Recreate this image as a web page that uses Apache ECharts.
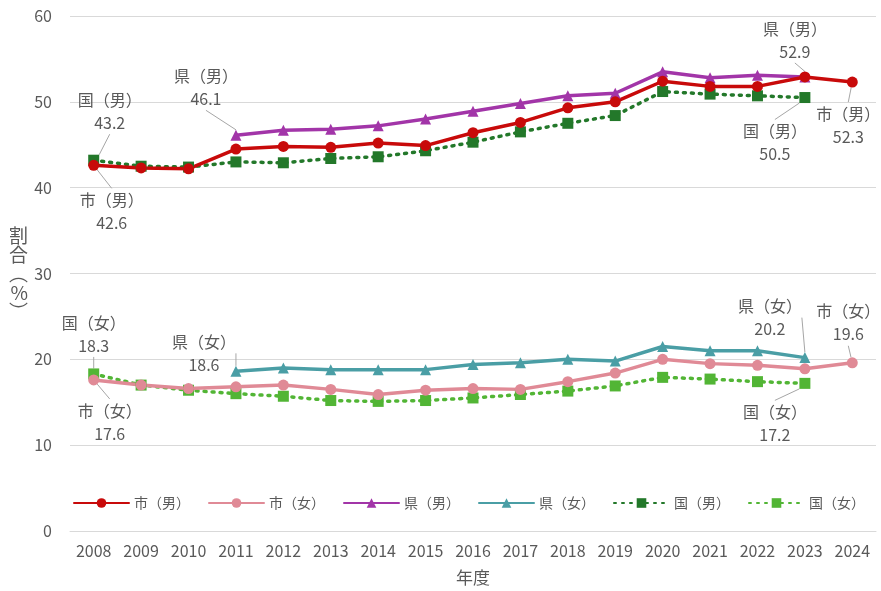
<!DOCTYPE html>
<html>
<head>
<meta charset="utf-8">
<script src="https://cdn.jsdelivr.net/npm/echarts@6/dist/echarts.min.js"></script>
<style>
html,body{margin:0;padding:0;background:#fff;}
#chart{width:881px;height:591px;}
</style>
</head>
<body>
<div id="chart"></div>
<script>
// 年度
var years = ['2008','2009','2010','2011','2012','2013','2014','2015','2016','2017','2018','2019','2020','2021','2022','2023','2024'];

// 割合（%）
var shiMale   = [42.6, 42.3, 42.2, 44.5, 44.8, 44.7, 45.2, 44.9, 46.4, 47.6, 49.3, 50.0, 52.4, 51.8, 51.8, 52.9, 52.3];
var shiFemale = [17.6, 17.0, 16.6, 16.8, 17.0, 16.5, 15.9, 16.4, 16.6, 16.5, 17.4, 18.4, 20.0, 19.5, 19.3, 18.9, 19.6];
var kenMale   = [null, null, null, 46.1, 46.7, 46.8, 47.2, 48.0, 48.9, 49.8, 50.7, 51.0, 53.5, 52.8, 53.1, 52.9, null];
var kenFemale = [null, null, null, 18.6, 19.0, 18.8, 18.8, 18.8, 19.4, 19.6, 20.0, 19.8, 21.5, 21.0, 21.0, 20.2, null];
var kuniMale  = [43.2, 42.5, 42.4, 43.0, 42.9, 43.4, 43.6, 44.3, 45.3, 46.5, 47.5, 48.4, 51.2, 50.9, 50.7, 50.5, null];
var kuniFemale= [18.3, 17.0, 16.4, 16.0, 15.7, 15.2, 15.1, 15.2, 15.5, 15.9, 16.3, 16.9, 17.9, 17.7, 17.4, 17.2, null];

// label offsets (px) from the point, by series and year index
var labelOffsets = {
	'市（男）': {0: [18, 46], 16: [-4, 43]},
	'市（女）': {0: [16, 42], 16: [-4, -40]},
	'県（男）': {3: [-30, -48], 15: [-10, -37]},
	'県（女）': {3: [-32, -18], 15: [-35, -40]},
	'国（男）': {0: [16, -49], 15: [-30, 45]},
	'国（女）': {0: [0, -40], 15: [-30, 40]}
};

var textColor = '#595959';
var fontFam = '"Noto Sans CJK JP", "Noto Sans", sans-serif';

function makeSeries(name, values, color, symbol, symbolSize, width, dotted) {
	var offs = labelOffsets[name];
	var data = values.map(function (v, i) {
		if (offs[i] && v != null) {
			return {value: v, label: {show: true}};
		}
		return v;
	});
	return {
		name: name,
		type: 'line',
		data: data,
		symbol: symbol,
		symbolSize: symbolSize,
		showAllSymbol: true,
		color: color,
		lineStyle: {color: color, width: width, type: dotted ? [2, 6] : 'solid', cap: 'round'},
		itemStyle: {color: color},
		label: {
			show: false,
			position: 'inside',
			formatter: function (p) { return p.seriesName + '\n' + p.value.toFixed(1); },
			color: textColor,
			fontSize: 16,
			lineHeight: 23,
			fontFamily: fontFam,
			align: 'center'
		},
		labelLine: {show: true, lineStyle: {color: '#a6a6a6', width: 1}},
		labelLayout: function (p) {
			var o = offs[p.dataIndex] || [0, 0];
			return {dx: o[0], dy: o[1]};
		},
		emphasis: {disabled: true},
		animation: false
	};
}

var chart = echarts.init(document.getElementById('chart'), null, {renderer: 'canvas'});

var option = {
	animation: false,
	backgroundColor: '#fff',
	grid: {left: 70, right: 5, top: 16, bottom: 60},
	legend: {
		left: 68,
		top: 491,
		width: 860,
		itemWidth: 55,
		itemHeight: 12,
		itemGap: 18,
		textStyle: {color: textColor, fontSize: 14, fontFamily: fontFam},
		data: ['市（男）', '市（女）', '県（男）', '県（女）', '国（男）', '国（女）']
	},
	xAxis: {
		type: 'category',
		data: years,
		boundaryGap: true,
		name: '年度',
		nameLocation: 'middle',
		nameGap: 38,
		nameTextStyle: {color: textColor, fontSize: 17, fontFamily: fontFam},
		axisLine: {show: true, lineStyle: {color: '#d9d9d9'}},
		axisTick: {show: false},
		axisLabel: {color: textColor, fontSize: 16, fontFamily: fontFam, margin: 12}
	},
	yAxis: {
		type: 'value',
		min: 0,
		max: 60,
		interval: 10,
		name: '割\n合\n︵\n%\n︶',
		nameLocation: 'middle',
		nameRotate: 0,
		nameGap: 42,
		nameTextStyle: {color: textColor, fontSize: 19, lineHeight: 19, fontFamily: fontFam},
		axisLine: {show: false},
		axisTick: {show: false},
		axisLabel: {color: textColor, fontSize: 16, fontFamily: fontFam, margin: 18},
		splitLine: {lineStyle: {color: '#d9d9d9'}}
	},
	series: [
		makeSeries('国（男）', kuniMale, '#23782a', 'rect', 11, 3.5, true),
		makeSeries('国（女）', kuniFemale, '#52b535', 'rect', 11, 3.5, true),
		makeSeries('市（女）', shiFemale, '#e08a96', 'circle', 11, 3.5, false),
		makeSeries('県（女）', kenFemale, '#4a9ea5', 'triangle', 11, 3.5, false),
		makeSeries('県（男）', kenMale, '#a235a8', 'triangle', 11, 3.5, false),
		makeSeries('市（男）', shiMale, '#c80a0a', 'circle', 11, 3.5, false)
	]
};

chart.setOption(option);
</script>
</body>
</html>
